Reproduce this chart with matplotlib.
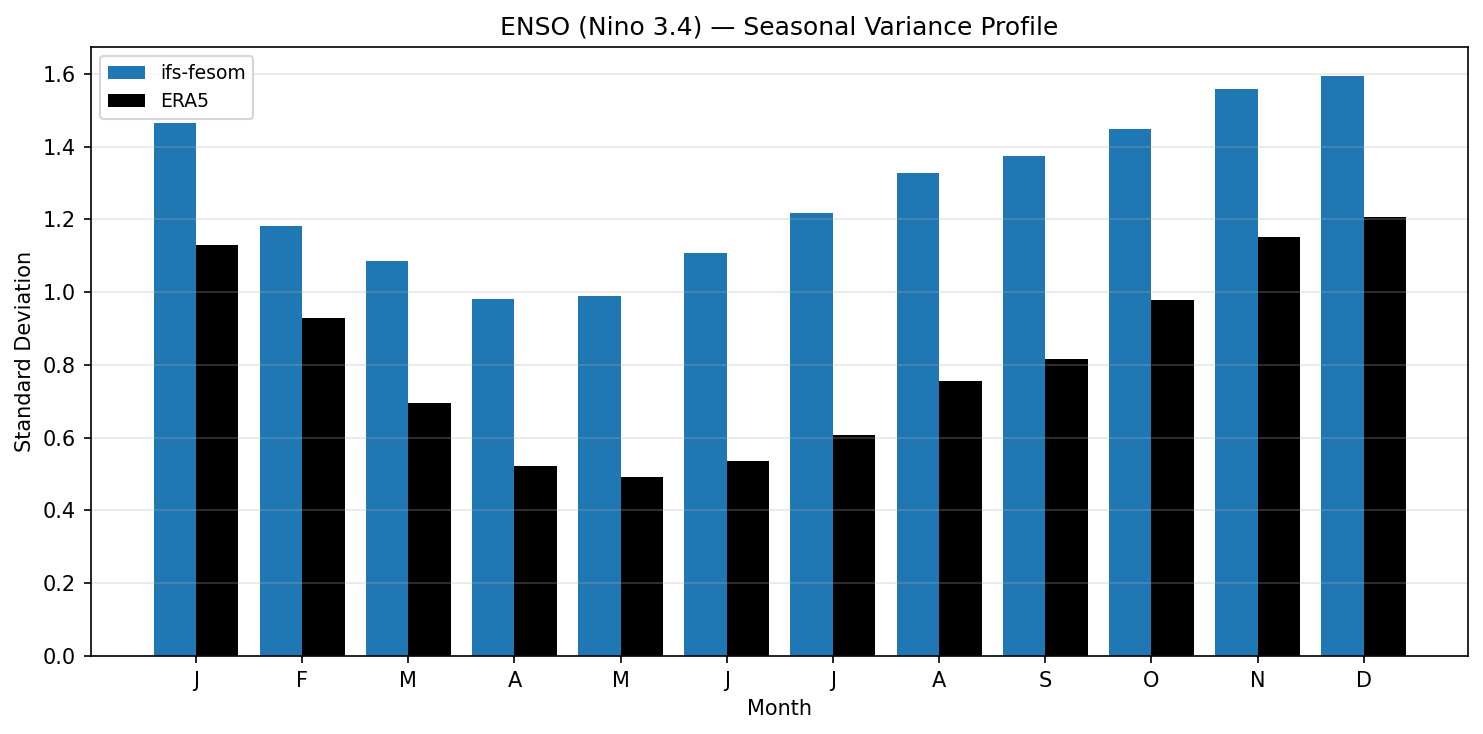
import matplotlib
matplotlib.use('Agg')

import numpy as np
import matplotlib.pyplot as plt

months = ['J', 'F', 'M', 'A', 'M', 'J', 'J', 'A', 'S', 'O', 'N', 'D']
model_std = [1.465, 1.182, 1.086, 0.981, 0.990, 1.108, 1.218, 1.328, 1.375, 1.449, 1.559, 1.594]
era5_std = [1.130, 0.929, 0.696, 0.522, 0.492, 0.536, 0.608, 0.756, 0.816, 0.979, 1.152, 1.207]

x = np.arange(1, 13)
w = 0.4

fig, ax = plt.subplots(figsize=(1483/150., 734/150.), dpi=150)
ax.bar(x - w/2, model_std, w, color='#1f77b4', label='ifs-fesom')
ax.bar(x + w/2, era5_std, w, color='black', label='ERA5')
ax.set_xticks(x)
ax.set_xticklabels(months)
ax.set_xlim(0.008, 12.985)
ax.set_xlabel('Month')
ax.set_ylabel('Standard Deviation')
ax.set_title('ENSO (Nino 3.4) \u2014 Seasonal Variance Profile')
ax.grid(axis='y', alpha=0.3)
ax.legend(loc='upper left', fontsize=9)
fig.subplots_adjust(left=90.7/1483., right=1468.3/1483., top=1-47/734., bottom=1-656/734.)
fig.savefig('out.png', dpi=150)
